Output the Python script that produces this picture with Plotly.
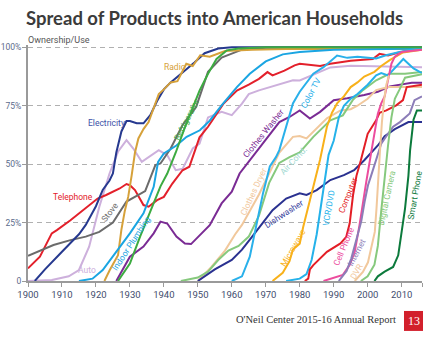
import plotly.graph_objects as go

# ---------------- data (year, % of households) ----------------
electricity_years = [1902,1905,1910,1915,1917,1920,1922,1924,1925,1926,1927.5,1929,1930,1932,1934,1936,1938,1940,1942,1945,1949,1952,1956,1960,2016]
electricity = [0,5,12.5,20,24,32,39,43,46,55,64,68.5,68.5,67.5,67.5,71,77,82,85,88.5,93.5,97.5,99.5,100,100]

radio_years = [1922.5,1924,1926.5,1927.5,1928.5,1929.5,1930.5,1931.5,1932.5,1934,1935.5,1937.5,1938.5,1940,1942,1944,1946.6,1948.5,1950.7,1953.5,1958,1966,1976,2016]
radio = [0,4.5,11,22,30,36,45,55,61,65,68,76,80,82,85,85.5,93,92,96.6,96,98.4,99,99.3,99.3]

auto_years = [1900,1907,1912,1915,1918,1921,1924,1926.5,1929,1931,1933.5,1937,1938.5,1941,1943.5,1945.5,1948.5,1950.5,1953,1957,1960,1963,1965,1968,1973,1978,1980,1986,1989,1995,2009,2016]
auto = [0,0.4,2,4.7,14.7,31.8,46,55.3,60.3,56.7,51,54.6,56,53.8,47.4,48,56.7,58.8,70,72.4,71,75.9,80,81.6,83.8,85.9,85.8,89.4,91.4,92.1,91.9,91.5]

telephone_years = [1900,1903.5,1907,1908.5,1912.5,1917,1920.5,1923,1927,1929,1930,1931.5,1934,1935.5,1938,1940,1942.5,1945.5,1947.5,1950.5,1953,1957.5,1961.5,1965,1968,1970.5,1972,1975.5,1978.5,1980,1986,1989,1995,2001.5,2003.5,2006,2009.5,2016]
telephone = [5.4,10.4,20.4,21.8,26,31,35.3,36.8,39.6,41.5,41,38.9,32.5,31.8,34.6,36,41.7,47.4,48.9,61.5,66,75.8,81.5,84,86.5,89.4,88,90,92.3,93,92,93,94.3,95,97.2,96.5,97.9,99.3]

stove_years = [1900,1907.5,1912.5,1917,1921,1925,1929,1934.5,1937.5,1939,1942,1945.5,1949.5,1953,1957,1963,1970,2016]
stove = [10.8,15.4,17.5,19,21,25,34,38.5,49.6,50.3,56.7,66.7,74.5,89.5,95.6,99,99.8,99.8]

refrigerator_years = [1926.5,1930,1933,1936,1939,1941,1943.5,1946,1948.5,1950.5,1953,1955.5,1958.5,1962,1970,2016]
refrigerator = [0,7.5,19,30,40.5,46,55,65,74.5,81.5,88.7,95,98.7,99.5,100,100]

plumbing_years = [1915,1919,1922,1925,1930,1934,1937,1938.3,1940,1943.7,1946.7,1950.6,1953.5,1957,1961.5,1965.3,1970,1975,1980,1990,2016]
plumbing = [0,1,4.7,10.4,20.4,29,40.3,51,54.6,58,61.7,64.5,68.6,75.2,83,88.7,94,97,98,99,99.5]

washer_years = [1926,1930,1934,1937,1939,1941,1943.7,1946.2,1948,1950.6,1953.5,1957,1960,1962.3,1965.3,1968.2,1972,1974,1977,1980,1983,1986,1990,1994,1999,2003,2006.5,2013,2016]
washer = [0,10.4,14.7,20.4,25.4,24.6,19,16,15.8,19.7,23.9,33.2,38.2,46,51.7,57.4,64.5,68,70.2,73,69.5,72.4,77.4,78.2,79.6,81,83.3,84.8,84.8]

dryer_years = [1950,1954,1958,1961,1963,1965,1968,1970,1972,1974,1978,1980,1982,1984,1988,1992,1995,1997,2000,2002.5,2006,2016]
dryer = [0,6,13,20,24,29,37,43,49,55,61.7,62,61,64,69.6,73,73.5,75,78,81.7,83,83]

aircond_years = [1945,1950,1953,1956,1959,1962,1965,1968,1971,1974,1977,1980,1984,1989,1992.7,1995.6,1998.6,2002.5,2006.4,2011,2016]
aircond = [0,1.5,4,9,13,15,19,28,42,50.5,53,55,61.7,68.8,70.9,77.4,81.7,85.9,88.7,88.7,89.5]

dishwasher_years = [1950,1955,1960,1963,1966,1969,1972,1976,1980,1982,1985,1989,1993,1996,1999,2003,2005,2008,2012,2016]
dishwasher = [0,5,9,13.4,19,24.6,30.3,35.3,37.5,36.8,38.9,43.2,45.3,47.4,51.7,58,62,65,68,68]

colortv_years = [1960,1963,1965.3,1967.2,1969.2,1971.2,1973,1974,1976,1978,1980,1982,1984,1987,1990,1991,1994,1997,2002.5,2005.4,2009.4,2014,2016]
colortv = [0,2,10.4,23.4,37.6,49,53,56,66,76,81,85,88.7,91.5,95,96.5,95.5,96,95.2,96.6,98,99.4,99.5]

microwave_years = [1972,1975,1977,1978,1980,1981,1983,1985,1986,1988,1989.5,1991,1993,1995,1997,1999,2002,2004,2006.5,2010.4,2016]
microwave = [0,3.5,8.5,13.5,16,23,34.6,46,52,66,72,76,79,83,85,87.5,89.5,92,94.5,97.8,99]

vcr_years = [1976,1980,1982,1983.5,1985,1986.4,1987.5,1988.5,1990,1991.5,1993,1995,1997,2000,2002.5,2004,2006,2008.5,2010.5,2012,2013.5,2016]
vcr = [0,1,3,9,20,34,46,54,60,70,75,78,80,84,88,89,88,92,95,93,91,89]

computer_years = [1981.5,1982.5,1983,1984,1988,1992,1993.7,1994.7,1995.7,1996.7,1998,2000,2002.5,2003.5,2005.5,2008.4,2010.4,2011.5,2016]
computer = [0,1,5,6.8,12.5,16.1,18.9,24.6,36.8,45,51.7,63,68.8,72,73,75.2,77.4,83,84]

cellphone_years = [1987,1992.7,1994.7,1996.2,1997.6,1998.6,1999.6,2001,2002,2003,2004,2005,2006,2007,2008,2010,2016]
cellphone = [0,2.6,6.8,12.5,23.9,33.9,42.5,54.6,63,71.6,76,79,86,93,96,98,99]

internet_years = [1991.5,1993.8,1995.2,1996.7,1998.1,1999.1,2000.1,2001,2002.5,2004,2006,2007.5,2009.5,2012.4,2013.8,2016]
internet = [0,4.3,9.7,18.2,25.4,33.9,41,45,51.7,58.8,63,66,68,71.7,77.4,79]

dvr_years = [1996.2,1998.6,2000.1,2001.1,2002.1,2002.6,2003.1,2003.6,2004.2,2004.8,2005.5,2006.3]
dvr = [0,3.9,8,14,21,31,45,55,68,77,84,88]

camera_years = [1998,2000,2002,2003,2004,2005,2006,2007,2008,2009.4,2011,2016]
camera = [0,2,7,15,30,45,58,70,78,82,87,88.5]

smartphone_years = [2002,2003,2005,2007.5,2009,2010,2011,2012,2012.5,2013.5,2014.5,2016]
smartphone = [0,2,4,6,11,20,31,45,56,69,73,73]

x_ticks = [1900,1910,1920,1930,1940,1950,1960,1970,1980,1990,2000,2010,2016]
x_tick_labels = ["1900","1910","1920","1930","1940","1950","1960","1970","1980","1990","2000","2010",""]
y_ticks = [0,25,50,75,100]
y_tick_labels = ["0","25%","50%","75%","100%"]

# ---------------- styling ----------------
series = [
    ("Auto", auto_years, auto, "#cdb0dc"),
    ("Telephone", telephone_years, telephone, "#e3202b"),
    ("Stove", stove_years, stove, "#6b6b6b"),
    ("Electricity", electricity_years, electricity, "#26398f"),
    ("Radio", radio_years, radio, "#d6a13a"),
    ("Indoor Plumbing", plumbing_years, plumbing, "#1aa5e2"),
    ("Clothes Washer", washer_years, washer, "#7a2b94"),
    ("Clothes Dryer", dryer_years, dryer, "#f1c89c"),
    ("Air Cond.", aircond_years, aircond, "#86c97d"),
    ("Dishwasher", dishwasher_years, dishwasher, "#2a3190"),
    ("Color TV", colortv_years, colortv, "#29b0ea"),
    ("Microwave", microwave_years, microwave, "#f8b11a"),
    ("VCR/DVD", vcr_years, vcr, "#25b2ea"),
    ("Computer", computer_years, computer, "#e31e26"),
    ("Cell Phone", cellphone_years, cellphone, "#ec4c9e"),
    ("Internet", internet_years, internet, "#8c7db8"),
    ("DVR", dvr_years, dvr, "#f1c89c"),
    ("Digital Camera", camera_years, camera, "#86c97d"),
    ("Smart Phone", smartphone_years, smartphone, "#0c7a3c"),
    ("Refrigerator", refrigerator_years, refrigerator, "#3dab41"),
]

fig = go.Figure()
for name, xs, ys, col in series:
    fig.add_trace(go.Scatter(x=xs, y=ys, mode="lines", name=name,
                             line=dict(color=col, width=2), hoverinfo="skip"))

LBL = "Roboto, Liberation Sans, sans-serif"

# (text, year, pct, angle, color)
labels = [
    ("Radio", 1943.4, 91.6, 0, "#d6a13a"),
    ("Electricity", 1923.2, 67.8, 0, "#3d51a8"),
    ("Telephone", 1913.3, 35.8, 0, "#e3202b"),
    ("Auto", 1917.3, 4.7, 0, "#cdb0dc"),
    ("Stove", 1924.1, 29.5, -52, "#6b6b6b"),
    ("Indoor Plumbing", 1930.5, 16.1, -57, "#1aa5e2"),
    ("Refrigerator", 1946.6, 69.0, -63, "#3dab41"),
    ("Clothes Washer", 1969.3, 63.5, -51, "#7a2b94"),
    ("Clothes Dryer", 1966.3, 38.2, -65, "#f1c89c"),
    ("Air Cond.", 1978.3, 51.7, -47, "#a3dad3"),
    ("Color TV", 1983.2, 80.6, -62, "#29b0ea"),
    ("Dishwasher", 1975.3, 28.5, -33, "#3a44a0"),
    ("Microwave", 1977.9, 14.3, -60, "#f8b11a"),
    ("VCR/DVD", 1988.6, 31.6, -80, "#25b2ea"),
    ("Computer", 1994.2, 36.8, -68, "#e31e26"),
    ("Cell Phone", 1993.0, 15.0, -67, "#ec4c9e"),
    ("Internet", 1996.6, 12.0, -62, "#8c7db8"),
    ("DVR", 1996.8, 4.3, -60, "#f1c89c"),
    ("Digital Camera", 2005.6, 35.5, -78, "#86c97d"),
    ("Smart Phone", 2013.9, 36.8, -80, "#0c7a3c"),
]
annotations = []
for t, xv, yv, ang, col in labels:
    annotations.append(dict(x=xv, y=yv, xref="x", yref="y", text=t, showarrow=False,
                            textangle=ang, font=dict(family=LBL, size=8.5, color=col)))

# pixel helpers for paper coords (plot area x 28..422, y 44.7..281)
def px(x):
    return (x - 28) / 394.0
def py(y):
    return (281 - y) / 236.3

annotations += [
    dict(x=px(214), y=py(18), xref="paper", yref="paper", text="<b>Spread of Products into American Households</b>",
         showarrow=False, xanchor="center", yanchor="middle",
         font=dict(family="Lato, Open Sans, sans-serif", size=18.5, color="#3b3b3b")),
    dict(x=px(26), y=py(40), xref="paper", yref="paper", text="Ownership/Use", showarrow=False,
         xanchor="left", yanchor="middle", font=dict(family=LBL, size=9, color="#555555")),
    dict(x=px(398), y=py(320), xref="paper", yref="paper", text="O'Neil Center 2015-16 Annual Report",
         showarrow=False, xanchor="right", yanchor="middle",
         font=dict(family="Liberation Serif, Times New Roman, serif", size=10.5, color="#333333")),
    dict(x=px(413.5), y=py(321), xref="paper", yref="paper", text="13", showarrow=False,
         xanchor="center", yanchor="middle",
         font=dict(family="Liberation Serif, Times New Roman, serif", size=12, color="#ffffff")),
]

shapes = [dict(type="rect", xref="paper", yref="paper", x0=px(404), x1=px(423), y0=py(331), y1=py(311),
               fillcolor="#d2202c", line=dict(width=0), layer="above")]

fig.update_layout(
    width=430, height=339,
    margin=dict(l=28, r=8, t=45, b=58),
    paper_bgcolor="white", plot_bgcolor="white",
    showlegend=False,
    annotations=annotations,
    shapes=shapes,
    xaxis=dict(range=[1900, 2016], tickvals=x_ticks, ticktext=x_tick_labels, ticks="outside", ticklen=4,
               tickcolor="#9a9a9a", showline=True, linecolor="#9a9a9a", linewidth=1.5, showgrid=False,
               zeroline=False, automargin=False,
               tickfont=dict(family=LBL, size=9.5, color="#3f4d6e")),
    yaxis=dict(range=[0, 101], tickvals=y_ticks, ticktext=y_tick_labels, ticks="outside", ticklen=4,
               ticklabelstandoff=-1,
               tickcolor="#9a9a9a", showline=True, linecolor="#9a9a9a", linewidth=2, automargin=False,
               showgrid=True, gridcolor="#b0b0b0", griddash="5px,4px", gridwidth=1, zeroline=False,
               tickfont=dict(family=LBL, size=8.5, color="#5b6b8c")),
)

fig.write_html("out.html")
